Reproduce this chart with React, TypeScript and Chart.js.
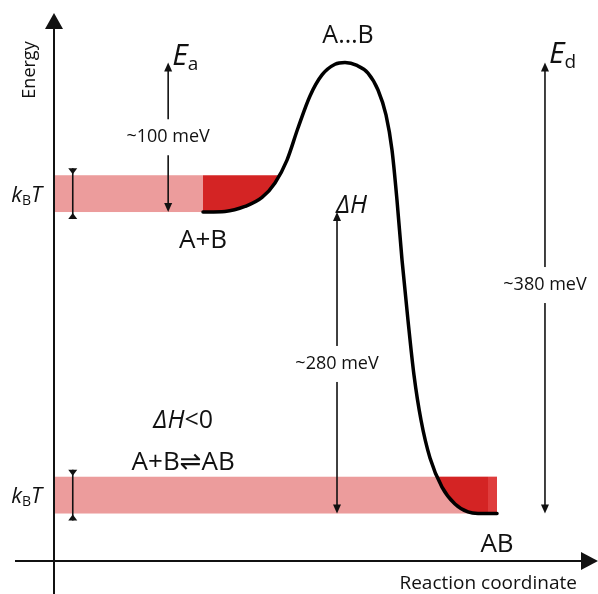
import React, { useEffect, useRef } from "react";
import { Chart, registerables } from "chart.js";

Chart.register(...registerables);

// Reaction coordinate (arbitrary units, 0–100) and energy (schematic meV, AB level = 0)
const pathX = [27.8, 31.9, 35.63, 38.81, 41.23, 43.47, 45.52, 47.76, 50.0, 52.43, 54.29, 56.53, 58.58, 60.45, 61.94, 63.06, 63.99, 64.93, 66.04, 67.16, 68.47, 70.15, 72.39, 74.81, 77.24, 79.1, 82.65];
const pathE = [254, 254.5, 258.7, 266.3, 278.5, 297.8, 324.8, 351.8, 369.5, 378.5, 380, 377.5, 371.1, 356.8, 335.8, 306.3, 264.1, 213.6, 163.0, 116.7, 78.8, 46.8, 22.3, 8.0, 1.3, 0, 0];

const levelReactants = 254; // A+B
const levelProduct = 0; // AB
const levelTransition = 380; // A…B
const thermalEnergy = 31; // kBT band height

const arrowEaX = 21.3;
const arrowDeltaHX = 52.8;
const arrowEdX = 91.6;

const labelEa = "~100 meV";
const labelDeltaH = "~280 meV";
const labelEd = "~380 meV";

const FONT = '"Open Sans", "DejaVu Sans", sans-serif';
const PINK = "#EC9C9C";
const RED = "#D42424";
const RED_LIGHT = "#DF3D3D";
const INK = "#111111";

const diagramPlugin = {
  id: "energyDiagram",
  beforeDatasetsDraw(chart: any) {
    const { ctx, chartArea: ca, scales } = chart;
    const X = (v: number) => scales.x.getPixelForValue(v);
    const Y = (v: number) => scales.y.getPixelForValue(v);
    const meta = chart.getDatasetMeta(0);
    const line = meta.dataset;
    line.updateControlPoints(ca, "x");
    const pts = meta.data;
    const x0 = X(0);
    const xStart = pts[0].x;
    const xEnd = pts[pts.length - 1].x;

    ctx.save();
    // kBT bands
    ctx.fillStyle = PINK;
    ctx.fillRect(x0, Y(levelReactants + thermalEnergy), xStart - x0, Y(levelReactants) - Y(levelReactants + thermalEnergy));
    ctx.fillRect(x0, Y(levelProduct + thermalEnergy), xEnd - x0, Y(levelProduct) - Y(levelProduct + thermalEnergy));

    const fillWell = (xa: number, xb: number, lo: number, hi: number, color: string) => {
      ctx.save();
      ctx.beginPath();
      ctx.rect(xa, Y(hi), xb - xa, Y(lo) - Y(hi) + 1);
      ctx.clip();
      ctx.beginPath();
      line.path(ctx);
      ctx.lineTo(xEnd, ca.top - 100);
      ctx.lineTo(xStart, ca.top - 100);
      ctx.closePath();
      ctx.fillStyle = color;
      ctx.fill();
      ctx.restore();
    };
    fillWell(xStart, X(46), levelReactants, levelReactants + thermalEnergy, RED);
    fillWell(X(60), xEnd - 9, levelProduct, levelProduct + thermalEnergy, RED);
    fillWell(xEnd - 9, xEnd, levelProduct, levelProduct + thermalEnergy, RED_LIGHT);
    ctx.restore();
  },
  afterDatasetsDraw(chart: any) {
    const { ctx, chartArea: ca, scales, width, height } = chart;
    const X = (v: number) => scales.x.getPixelForValue(v);
    const Y = (v: number) => scales.y.getPixelForValue(v);
    ctx.save();
    ctx.fillStyle = INK;
    ctx.strokeStyle = INK;

    // main axes
    ctx.lineWidth = 2;
    ctx.beginPath();
    ctx.moveTo(ca.left, height);
    ctx.lineTo(ca.left, ca.top + 12);
    ctx.moveTo(ca.left - 39, ca.bottom);
    ctx.lineTo(width - 14, ca.bottom);
    ctx.stroke();
    ctx.beginPath();
    ctx.moveTo(ca.left, ca.top - 2);
    ctx.lineTo(ca.left - 9, ca.top + 14);
    ctx.lineTo(ca.left + 9, ca.top + 14);
    ctx.closePath();
    ctx.fill();
    ctx.beginPath();
    ctx.moveTo(width, ca.bottom);
    ctx.lineTo(width - 17, ca.bottom - 9);
    ctx.lineTo(width - 17, ca.bottom + 9);
    ctx.closePath();
    ctx.fill();

    // double arrows
    const head = (x: number, y: number, dir: number, w = 4, h = 9) => {
      ctx.beginPath();
      ctx.moveTo(x, y);
      ctx.lineTo(x - w, y - dir * h);
      ctx.lineTo(x + w, y - dir * h);
      ctx.closePath();
      ctx.fill();
    };
    const arrow = (xv: number, lo: number, hi: number, label: string | null, labelE: number) => {
      const px = X(xv);
      ctx.lineWidth = 1.6;
      ctx.beginPath();
      ctx.moveTo(px, Y(lo) - 5);
      ctx.lineTo(px, Y(hi) + 5);
      ctx.stroke();
      head(px, Y(hi), -1);
      head(px, Y(lo), 1);
      if (label) {
        ctx.font = `18px ${FONT}`;
        const w = ctx.measureText(label).width;
        const py = Y(labelE);
        ctx.fillStyle = "#ffffff";
        ctx.fillRect(px - w / 2 - 4, py - 18, w + 8, 36);
        ctx.fillStyle = INK;
        ctx.textAlign = "center";
        ctx.textBaseline = "middle";
        ctx.fillText(label, px, py);
      }
    };
    arrow(arrowEaX, levelReactants, levelTransition, labelEa, 317);
    arrow(arrowDeltaHX, levelProduct, levelReactants, labelDeltaH, 126);
    arrow(arrowEdX, levelProduct, levelTransition, labelEd, 192.5);

    // kBT markers
    const kbtMarker = (lo: number) => {
      const px = X(3.5);
      const yt = Y(lo + thermalEnergy) - 7;
      const yb = Y(lo) + 7;
      ctx.lineWidth = 1.6;
      ctx.beginPath();
      ctx.moveTo(px, yt);
      ctx.lineTo(px, yb);
      ctx.stroke();
      ctx.beginPath();
      ctx.moveTo(px - 4.5, yt);
      ctx.lineTo(px + 4.5, yt);
      ctx.lineTo(px, yt + 6);
      ctx.closePath();
      ctx.fill();
      ctx.beginPath();
      ctx.moveTo(px - 4.5, yb);
      ctx.lineTo(px + 4.5, yb);
      ctx.lineTo(px, yb - 6);
      ctx.closePath();
      ctx.fill();
    };
    kbtMarker(levelReactants);
    kbtMarker(levelProduct);

    // text helpers
    ctx.textBaseline = "alphabetic";
    ctx.textAlign = "left";
    const runs = (parts: [string, string, number][], x: number, y: number, align: "left" | "center" | "right") => {
      let total = 0;
      const ws = parts.map(([t, f]) => {
        ctx.font = f;
        const w = ctx.measureText(t).width;
        total += w;
        return w;
      });
      let cx = align === "left" ? x : align === "center" ? x - total / 2 : x - total;
      parts.forEach(([t, f, dy], i) => {
        ctx.font = f;
        ctx.fillText(t, cx, y + dy);
        cx += ws[i];
      });
    };

    const kbt = (lo: number) => {
      runs(
        [
          ["k", `italic 22px ${FONT}`, 0],
          ["B", `14px ${FONT}`, 3],
          ["T", `italic 22px ${FONT}`, 0],
        ],
        ca.left - 12,
        Y(lo + thermalEnergy / 2) + 8,
        "right"
      );
    };
    kbt(levelReactants);
    kbt(levelProduct);

    runs([["E", `italic 30px ${FONT}`, 0], ["a", `19px ${FONT}`, 5]], X(arrowEaX) + 4, Y(levelTransition) + 3, "left");
    runs([["E", `italic 30px ${FONT}`, 0], ["d", `19px ${FONT}`, 5]], X(arrowEdX) + 4, Y(levelTransition) + 1, "left");
    runs([["ΔH", `italic 25px ${FONT}`, 0]], X(arrowDeltaHX) - 1, Y(levelReactants) + 1, "left");

    runs([["A…B", `25px ${FONT}`, 0]], X(54.3) + 3, Y(levelTransition) - 19, "center");
    runs([["A+B", `26px ${FONT}`, 0]], X(pathX[0]), Y(levelReactants) + 36, "center");
    runs([["AB", `26px ${FONT}`, 0]], X(pathX[pathX.length - 1]), Y(levelProduct) + 38, "center");
    runs([["ΔH", `italic 25px ${FONT}`, 0], ["<0", `25px ${FONT}`, 0]], X(24.1), Y(72), "center");
    runs([["A+B⇌AB", `26px ${FONT}`, 0]], X(24.1), Y(36.5), "center");

    runs([["Reaction coordinate", `19px ${FONT}`, 0]], X(81), ca.bottom + 28, "center");

    ctx.save();
    ctx.translate(ca.left - 24, ca.top + 55);
    ctx.rotate(-Math.PI / 2);
    ctx.font = `18px ${FONT}`;
    ctx.textAlign = "center";
    ctx.textBaseline = "middle";
    ctx.fillText("Energy", 0, 0);
    ctx.restore();

    ctx.restore();
  },
};

export default function App() {
  const ref = useRef<HTMLCanvasElement | null>(null);
  useEffect(() => {
    if (!ref.current) return;
    const chart = new Chart(ref.current, {
      type: "line",
      data: {
        datasets: [
          {
            data: pathX.map((x, i) => ({ x, y: pathE[i] })),
            borderColor: "#000000",
            borderWidth: 3.5,
            pointRadius: 0,
            cubicInterpolationMode: "monotone",
            fill: false,
            borderCapStyle: "round",
          },
        ],
      },
      options: {
        responsive: false,
        animation: false,
        layout: { padding: { left: 54, right: 8, top: 15, bottom: 33 } },
        scales: {
          x: { type: "linear", min: 0, max: 100, display: false },
          y: { type: "linear", min: -40, max: 420, display: false },
        },
        plugins: { legend: { display: false }, tooltip: { enabled: false } },
      },
      plugins: [diagramPlugin],
    });
    return () => chart.destroy();
  }, []);
  return (
    <div style={{ position: "absolute", left: 0, top: 0, width: 598, height: 594, background: "#fff" }}>
      <canvas ref={ref} width={598} height={594} style={{ display: "block" }} />
    </div>
  );
}
